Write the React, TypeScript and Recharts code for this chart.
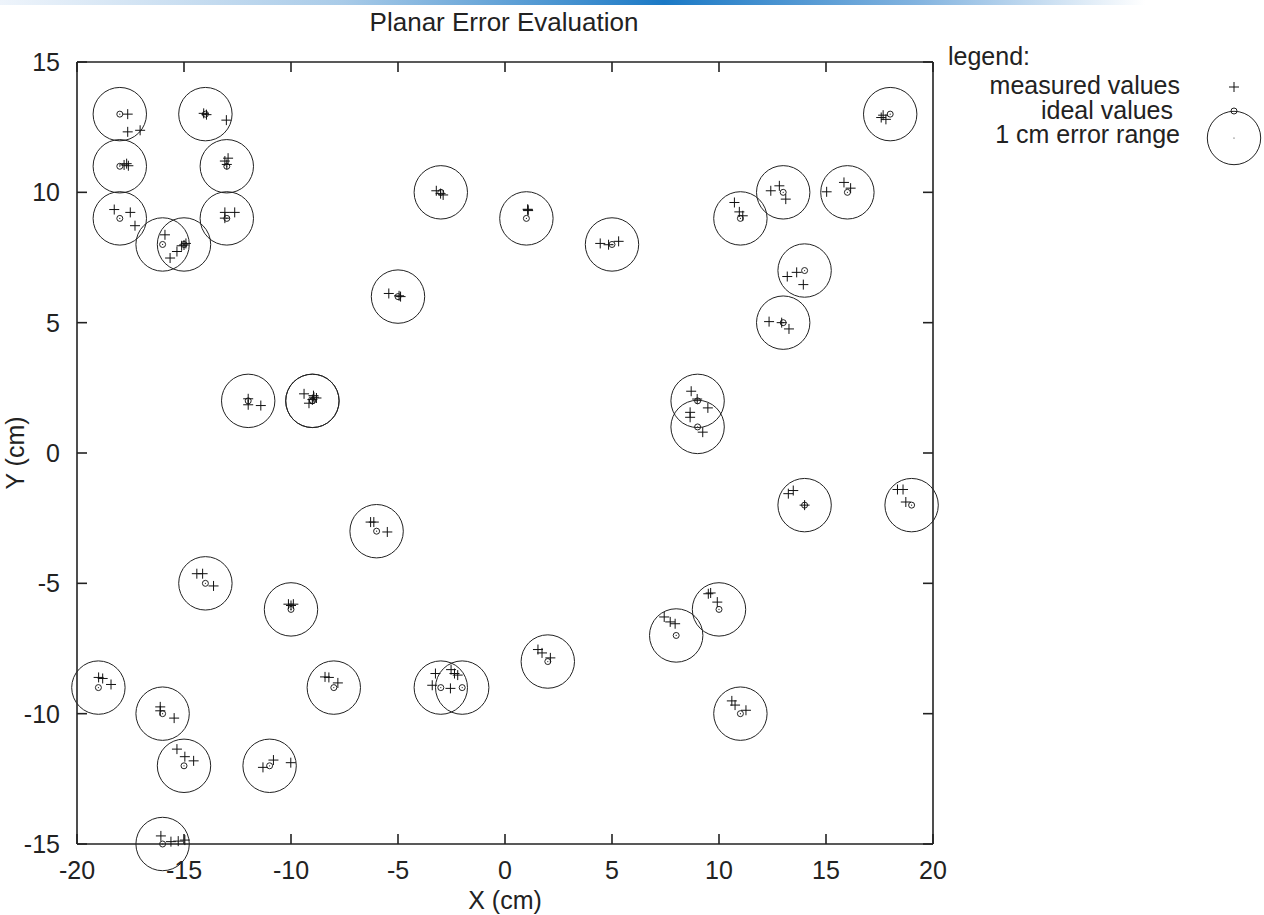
import React from "react";
import { ScatterChart, Scatter, XAxis, YAxis } from "recharts";

const FONT = '"Liberation Sans", Arial, Helvetica, sans-serif';
const INK = "#222";

const xTicks = [-20, -15, -10, -5, 0, 5, 10, 15, 20];
const yTicks = [-15, -10, -5, 0, 5, 10, 15];

// circle centres (cm)
const idealValues: [number, number][] = [
  [-18, 13], [-14, 13], [-18, 11], [-13, 11], [-18, 9], [-13, 9], [-16, 8], [-15, 8],
  [-3, 10], [1, 9], [5, 8], [-5, 6],
  [11, 9], [13, 10], [16, 10], [18, 13], [14, 7], [13, 5],
  [9, 2], [9, 1], [14, -2], [19, -2],
  [-12, 2], [-9, 2], [-9, 2], [-6, -3], [-14, -5], [-10, -6],
  [-19, -9], [-16, -10], [-15, -12], [-11, -12], [-16, -15], [-8, -9],
  [-3, -9], [-2, -9], [2, -8], [8, -7], [10, -6], [11, -10],
];

// measured positions (cm)
const measuredValues: [number, number][] = [
  [-17.63, 13.0], [-17.63, 12.32], [-17.05, 12.38],
  [-14.08, 13.03], [-13.95, 12.98], [-13.02, 12.77],
  [-17.8, 11.05], [-17.68, 11.1], [-17.6, 11.02],
  [-12.94, 11.31], [-13.09, 11.2], [-13.0, 11.07],
  [-18.26, 9.34], [-17.51, 9.23], [-17.29, 8.72],
  [-13.09, 9.23], [-12.63, 9.23], [-13.09, 9.01],
  [-15.89, 8.37], [-15.65, 7.48], [-15.33, 7.73], [-15.11, 7.95], [-14.91, 8.04], [-15.0, 7.98],
  [-3.21, 10.06], [-3.01, 9.95], [-2.89, 9.9],
  [1.07, 9.33], [1.08, 9.3], [1.06, 9.35],
  [4.45, 8.04], [4.84, 7.99], [5.31, 8.12],
  [-5.43, 6.12], [-4.95, 6.03], [-4.88, 6.0],
  [10.72, 9.61], [10.95, 9.25], [11.11, 9.1],
  [12.42, 10.06], [12.82, 10.25], [13.12, 9.74],
  [15.03, 10.02], [15.84, 10.38], [16.15, 10.16],
  [17.58, 12.87], [17.67, 12.96], [17.8, 12.8],
  [13.19, 6.77], [13.63, 6.93], [13.94, 6.46],
  [12.34, 5.04], [12.93, 5.0], [13.27, 4.76],
  [8.7, 2.37], [8.98, 2.07], [9.48, 1.73],
  [8.65, 1.56], [8.65, 1.37], [9.24, 0.8],
  [13.24, -1.56], [13.47, -1.44], [14.0, -2.0],
  [18.34, -1.4], [18.6, -1.4], [18.73, -1.88],
  [-12.0, 2.08], [-12.0, 1.85], [-11.41, 1.82],
  [-9.39, 2.27], [-9.16, 1.91], [-8.93, 2.14], [-8.81, 2.11], [-9.0, 2.05], [-8.95, 2.2],
  [-6.28, -2.65], [-6.13, -2.65], [-5.5, -3.03],
  [-14.4, -4.63], [-14.13, -4.63], [-13.62, -5.1],
  [-10.12, -5.8], [-9.89, -5.8], [-10.0, -5.85],
  [-18.99, -8.61], [-18.8, -8.65], [-18.41, -8.88],
  [-16.11, -9.74], [-16.11, -9.89], [-15.46, -10.17],
  [-15.33, -11.36], [-14.96, -11.65], [-14.55, -11.81],
  [-11.31, -12.06], [-10.82, -11.78], [-10.01, -11.88],
  [-16.08, -14.69], [-15.61, -14.91], [-15.27, -14.89], [-14.96, -14.85],
  [-8.41, -8.59], [-8.23, -8.61], [-7.81, -8.82],
  [-3.25, -8.46], [-3.4, -8.91], [-2.55, -9.03], [-2.52, -8.31], [-2.36, -8.46], [-2.21, -8.52],
  [1.54, -7.54], [1.73, -7.67], [2.12, -7.86],
  [7.44, -6.29], [7.72, -6.48], [7.95, -6.55],
  [9.5, -5.4], [9.61, -5.37], [9.92, -5.72],
  [10.6, -9.51], [10.75, -9.67], [11.26, -9.87],
];

const legendLabels = ["measured values", "ideal values", "1 cm error range"];

const idealData = idealValues.map(([x, y]) => ({ x, y }));
const measuredData = measuredValues.map(([x, y]) => ({ x, y }));

const ERR_R = 26.7;
const TICK_LEN = 10;

const PlusShape = (p: any) => (
  <g stroke="#111" strokeWidth={1}>
    <line x1={p.cx - 5} y1={p.cy} x2={p.cx + 5} y2={p.cy} />
    <line x1={p.cx} y1={p.cy - 5} x2={p.cx} y2={p.cy + 5} />
  </g>
);

const IdealShape = (p: any) => (
  <circle cx={p.cx} cy={p.cy} r={3} fill="none" stroke={INK} strokeWidth={1} />
);

const ErrorShape = (p: any) => (
  <g>
    <circle cx={p.cx} cy={p.cy} r={ERR_R} fill="none" stroke={INK} strokeWidth={1} />
    <circle cx={p.cx} cy={p.cy} r={0.6} fill={INK} />
  </g>
);

// inward ticks (gnuplot style), labels outside
const BottomTick = (p: any) => (
  <g>
    <line x1={p.x} y1={p.y} x2={p.x} y2={p.y - TICK_LEN} stroke={INK} strokeWidth={1.6} />
    <text x={p.x} y={p.y + 35} textAnchor="middle" fontSize={25} fontFamily={FONT} fill={INK}>
      {p.payload.value}
    </text>
  </g>
);
const TopTick = (p: any) => (
  <line x1={p.x} y1={p.y} x2={p.x} y2={p.y + TICK_LEN} stroke={INK} strokeWidth={1.6} />
);
const LeftTick = (p: any) => (
  <g>
    <line x1={p.x} y1={p.y} x2={p.x + TICK_LEN} y2={p.y} stroke={INK} strokeWidth={1.6} />
    <text x={p.x - 17} y={p.y + 9} textAnchor="end" fontSize={25} fontFamily={FONT} fill={INK}>
      {p.payload.value}
    </text>
  </g>
);
const RightTick = (p: any) => (
  <line x1={p.x} y1={p.y} x2={p.x - TICK_LEN} y2={p.y} stroke={INK} strokeWidth={1.6} />
);

const axisLine = { stroke: INK, strokeWidth: 1.6 };

export default function App() {
  return (
    <div style={{ position: "absolute", left: 0, top: 0, width: 1264, height: 915, background: "#fff" }}>
      <ScatterChart width={1264} height={915} margin={{ top: 52, right: 321, bottom: 6, left: 17 }}>
        <XAxis
          xAxisId="b"
          type="number"
          dataKey="x"
          domain={[-20, 20]}
          ticks={xTicks}
          orientation="bottom"
          height={65}
          tickSize={0}
          tickMargin={0}
          tickLine={false}
          axisLine={axisLine}
          tick={BottomTick}
          label={{ value: "X (cm)", position: "insideBottom", offset: 0, fill: INK, fontSize: 25, fontFamily: FONT }}
        />
        <XAxis
          xAxisId="t"
          type="number"
          dataKey="x"
          domain={[-20, 20]}
          ticks={xTicks}
          orientation="top"
          height={10}
          tickSize={0}
          tickMargin={0}
          tickLine={false}
          axisLine={axisLine}
          tick={TopTick}
        />
        <YAxis
          yAxisId="l"
          type="number"
          dataKey="y"
          domain={[-15, 15]}
          ticks={yTicks}
          orientation="left"
          width={60}
          tickSize={0}
          tickMargin={0}
          tickLine={false}
          axisLine={axisLine}
          tick={LeftTick}
          label={{
            value: "Y (cm)",
            angle: -90,
            position: "insideLeft",
            offset: -2,
            fill: INK,
            fontSize: 25,
            fontFamily: FONT,
            style: { textAnchor: "middle" },
          }}
        />
        <YAxis
          yAxisId="r"
          type="number"
          dataKey="y"
          domain={[-15, 15]}
          ticks={yTicks}
          orientation="right"
          width={10}
          tickSize={0}
          tickMargin={0}
          tickLine={false}
          axisLine={axisLine}
          tick={RightTick}
        />
        <Scatter xAxisId="b" yAxisId="l" name="1 cm error range" data={idealData} shape={ErrorShape} isAnimationActive={false} />
        <Scatter xAxisId="t" yAxisId="r" name="ideal values" data={idealData} shape={IdealShape} isAnimationActive={false} />
        <Scatter xAxisId="b" yAxisId="l" name="measured values" data={measuredData} shape={PlusShape} isAnimationActive={false} />
      </ScatterChart>

      <svg
        width={1264}
        height={915}
        style={{ position: "absolute", left: 0, top: 0, pointerEvents: "none" }}
        fontFamily={FONT}
      >
        <defs>
          <linearGradient id="topbar" x1="0" y1="0" x2="1" y2="0">
            <stop offset="0" stopColor="#eef4fb" />
            <stop offset="0.3" stopColor="#a9cbe8" />
            <stop offset="0.58" stopColor="#1b79c5" />
            <stop offset="0.8" stopColor="#82b3df" />
            <stop offset="1" stopColor="#ffffff" />
          </linearGradient>
        </defs>
        <rect x={0} y={0} width={1145} height={5} fill="url(#topbar)" />
        <text x={504} y={31} textAnchor="middle" fontSize={26} fill={INK}>
          Planar Error Evaluation
        </text>

        <text x={948} y={65} fontSize={25} fill={INK}>legend:</text>
        <text x={1180} y={94} textAnchor="end" fontSize={25} fill={INK}>{legendLabels[0]}</text>
        <text x={1173} y={119} textAnchor="end" fontSize={25} fill={INK}>{legendLabels[1]}</text>
        <text x={1180} y={143} textAnchor="end" fontSize={25} fill={INK}>{legendLabels[2]}</text>

        <PlusShape cx={1234} cy={87} />
        <IdealShape cx={1234} cy={111} />
        <ErrorShape cx={1234} cy={138} />
      </svg>
    </div>
  );
}
